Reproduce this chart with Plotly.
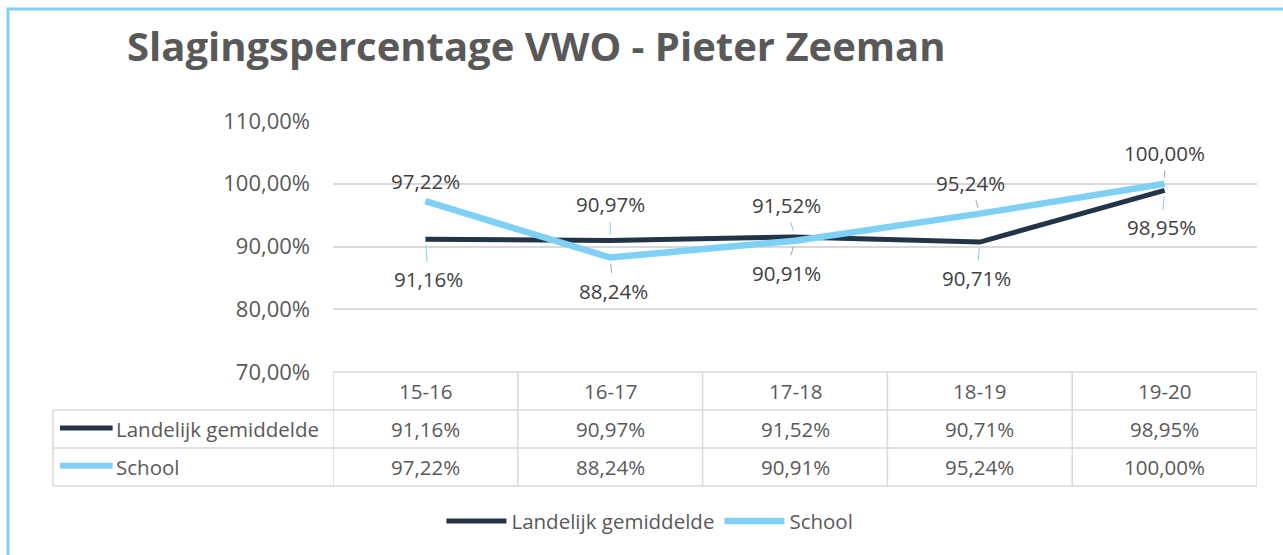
import plotly.graph_objects as go

categories = ["15-16", "16-17", "17-18", "18-19", "19-20"]
landelijk = [91.16, 90.97, 91.52, 90.71, 98.95]
school = [97.22, 88.24, 90.91, 95.24, 100.00]
series_names = ["Landelijk gemiddelde", "School"]
title_text = "Slagingspercentage VWO - Pieter Zeeman"

DARK = "#243447"
LIGHT = "#7FD0F5"
GRID = "#d9d9d9"
TXT = "#595959"
LBL = "#404040"
FONT = "Open Sans"

def fmt(v):
    return f"{v:.2f}".replace(".", ",") + "%"

x = list(range(len(categories)))
fig = go.Figure()
fig.add_trace(go.Scatter(x=x, y=landelijk, mode="lines", name=series_names[0],
                         line=dict(color=DARK, width=5)))
fig.add_trace(go.Scatter(x=x, y=school, mode="lines", name=series_names[1],
                         line=dict(color=LIGHT, width=6.5)))

# data label offsets (pixels) : above(-)/below(+)
land_off = [(3, 40), (0, -36), (-9, -32), (-3, 36), (-3, 37)]
school_off = [(0, -20), (3, 33), (-9, 32), (-9, -31), (0, -31)]
ann = []
for i, v in enumerate(landelijk):
    ax, ay = land_off[i]
    ann.append(dict(x=i, y=v, xref="x", yref="y", text=fmt(v), showarrow=True,
                    arrowhead=0, arrowwidth=1, arrowcolor=LIGHT, ax=ax, ay=ay,
                    standoff=6, startstandoff=2,
                    font=dict(family=FONT, size=20.5, color=LBL)))
for i, v in enumerate(school):
    ax, ay = school_off[i]
    ann.append(dict(x=i, y=v, xref="x", yref="y", text=fmt(v), showarrow=True,
                    arrowhead=0, arrowwidth=1, arrowcolor="#a6a6a6", ax=ax, ay=ay,
                    standoff=6, startstandoff=2,
                    font=dict(family=FONT, size=20.5, color=LBL)))

# data table
row_hdr = -0.0757
row_y = [-0.227, -0.378]
lines_y = [0.0, -0.1514, -0.3028, -0.454]
for i, c in enumerate(categories):
    ann.append(dict(x=i, y=row_hdr, xref="x", yref="paper", text=c, showarrow=False,
                    yanchor="middle", font=dict(family=FONT, size=20.5, color=TXT)))
    ann.append(dict(x=i, y=row_y[0], xref="x", yref="paper", text=fmt(landelijk[i]),
                    showarrow=False, yanchor="middle",
                    font=dict(family=FONT, size=20.5, color=TXT)))
    ann.append(dict(x=i, y=row_y[1], xref="x", yref="paper", text=fmt(school[i]),
                    showarrow=False, yanchor="middle",
                    font=dict(family=FONT, size=20.5, color=TXT)))

shapes = []
left_paper = -0.303
for k, (nm, col) in enumerate(zip(series_names, [DARK, LIGHT])):
    ann.append(dict(x=-0.2365, y=row_y[k], xref="paper", yref="paper", text=nm,
                    showarrow=False, xanchor="left", yanchor="middle",
                    font=dict(family=FONT, size=20.5, color=TXT)))
    shapes.append(dict(type="line", xref="paper", yref="paper", x0=-0.2955, x1=-0.2385,
                       y0=row_y[k] + 0.004, y1=row_y[k] + 0.004,
                       line=dict(color=col, width=5 if k == 0 else 6)))

n = len(categories)
# horizontal table lines
shapes.append(dict(type="line", xref="x", yref="paper", x0=-0.5, x1=n - 0.5,
                   y0=lines_y[0], y1=lines_y[0], line=dict(color=GRID, width=1.5)))
for yy in lines_y[1:]:
    shapes.append(dict(type="line", xref="paper", yref="paper", x0=left_paper, x1=1,
                       y0=yy, y1=yy, line=dict(color=GRID, width=1.5)))
# vertical table lines
for b in range(n + 1):
    shapes.append(dict(type="line", xref="x", yref="paper", x0=b - 0.5, x1=b - 0.5,
                       y0=0, y1=lines_y[-1], line=dict(color=GRID, width=1.5)))
shapes.append(dict(type="line", xref="paper", yref="paper", x0=left_paper, x1=left_paper,
                   y0=lines_y[1], y1=lines_y[-1], line=dict(color=GRID, width=1.5)))

# outer border (top + left)
shapes.append(dict(type="line", xref="paper", yref="paper", x0=-0.3517, x1=1.05,
                   y0=1.446, y1=1.446, line=dict(color=LIGHT, width=3)))
shapes.append(dict(type="line", xref="paper", yref="paper", x0=-0.3517, x1=-0.3517,
                   y0=1.452, y1=-0.8, line=dict(color=LIGHT, width=3)))

fig.update_layout(
    width=1283, height=555,
    margin=dict(l=333, r=26, t=121, b=183),
    paper_bgcolor="white", plot_bgcolor="white",
    separators=",.",
    title=dict(text=f"<b>{title_text}</b>", x=127 / 1283, xanchor="left",
               y=1 - 47 / 555, yanchor="middle",
               font=dict(family=FONT, size=40, color=TXT)),
    xaxis=dict(range=[-0.5, n - 0.5], showticklabels=False, showgrid=False,
               zeroline=False, showline=False, ticks=""),
    yaxis=dict(range=[70, 110], dtick=10, tickformat=".2f", ticksuffix="%",
               showgrid=True, gridcolor=GRID, gridwidth=1.5, zeroline=False,
               showline=False, ticks="", ticklabelstandoff=22,
               tickfont=dict(family=FONT, size=22, color=TXT)),
    showlegend=True,
    legend=dict(orientation="h", x=0.343, xanchor="center", y=-0.594, yanchor="middle",
                font=dict(family=FONT, size=20.5, color=TXT), itemwidth=60,
                tracegroupgap=0),
    annotations=ann,
    shapes=shapes,
)
fig.write_html("out.html", config={"displayModeBar": False},
               post_script="document.body.style.margin='0';")
